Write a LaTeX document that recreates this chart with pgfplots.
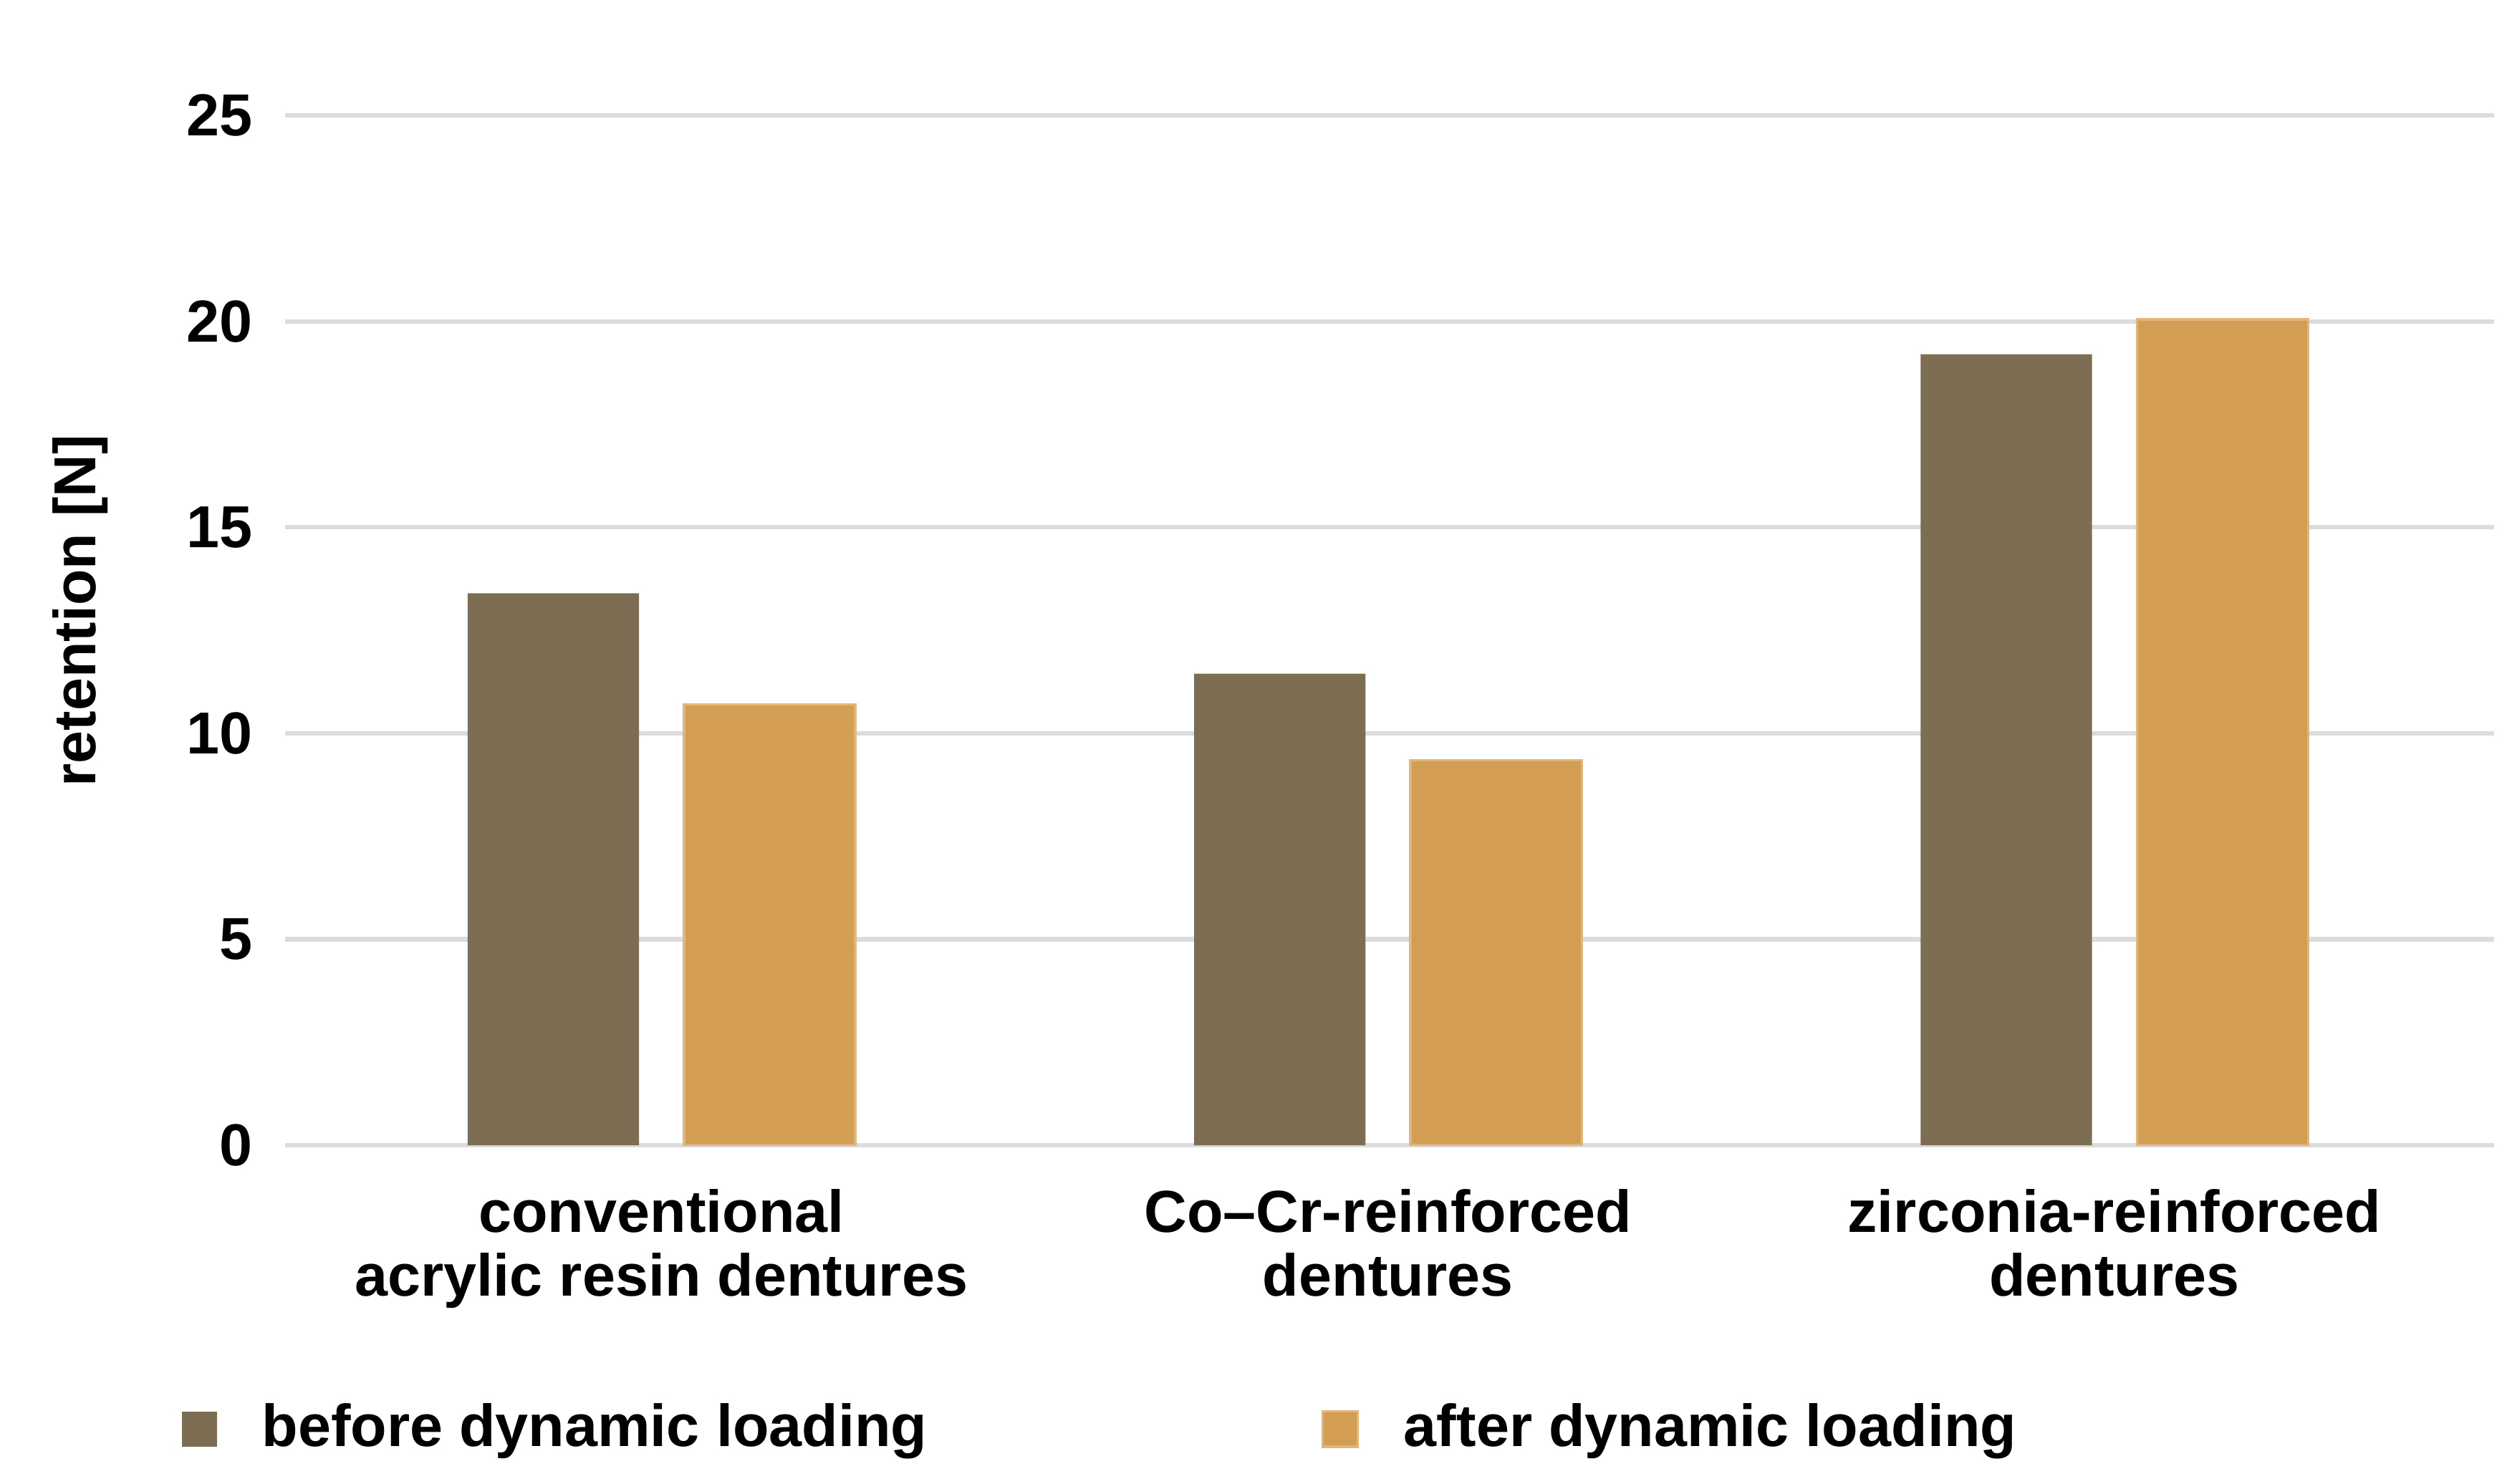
\documentclass[border=0pt]{standalone}
\usepackage{fontspec}
\setmainfont{Liberation Sans}
\usepackage{pgfplots}
\pgfplotsset{compat=1.18}

\definecolor{before}{HTML}{7D6E53}
\definecolor{after}{HTML}{D39E53}
\definecolor{afteredge}{HTML}{E2B679}
\definecolor{gridgray}{HTML}{DCDCDC}

\begin{document}
\begin{tikzpicture}
\begin{axis}[
  scale only axis,
  width=689.5pt,
  height=321.5pt,
  font=\fontsize{18.5}{20}\selectfont\bfseries,
  ybar=14pt,
  bar width=53.5pt,
  xmin=-0.518, xmax=2.523,
  ymin=0, ymax=25,
  ytick={0,5,10,15,20,25},
  xtick={0,1,2},
  xticklabels={{conventional\\acrylic resin dentures},{Co--Cr-reinforced\\dentures},{zirconia-reinforced\\dentures}},
  x tick label style={align=center, anchor=north, inner sep=0pt, yshift=-13.5pt},
  y tick label style={anchor=east, inner xsep=0pt, xshift=-10pt},
  /pgf/number format/assume math mode=true,
  major tick length=0pt,
  axis line style={draw=none},
  ymajorgrids,
  grid style={gridgray, line width=1.4pt},
  ylabel={retention [N]},
  ylabel style={at={(rel axis cs:-0.0928,0.519)}, anchor=center},
  legend columns=2,
  legend image code/.code={\fill[#1] (0pt,0pt) rectangle (11pt,11pt);},
  legend style={draw=none, fill=none, inner sep=0pt,
    at={(rel axis cs:0,0)}, anchor=west, xshift=-32.5pt, yshift=-88.1pt,
    nodes={anchor=base west, inner sep=0pt},
    /tikz/every odd column/.append style={column sep=14pt},
    /tikz/every even column/.append style={column sep=123pt}},
]
\addplot[fill=before, draw=none] coordinates {(0,13.4) (1,11.45) (2,19.2)};
\addplot[fill=after, draw=afteredge, line width=0.8pt] coordinates {(0,10.7) (1,9.35) (2,20.05)};
\legend{before dynamic loading, after dynamic loading}
\end{axis}
\pgfresetboundingbox
\path ([shift={(-89pt,-105.5pt)}]current axis.south west) rectangle ([shift={(695pt,357.5pt)}]current axis.south west);
\end{tikzpicture}
\end{document}
